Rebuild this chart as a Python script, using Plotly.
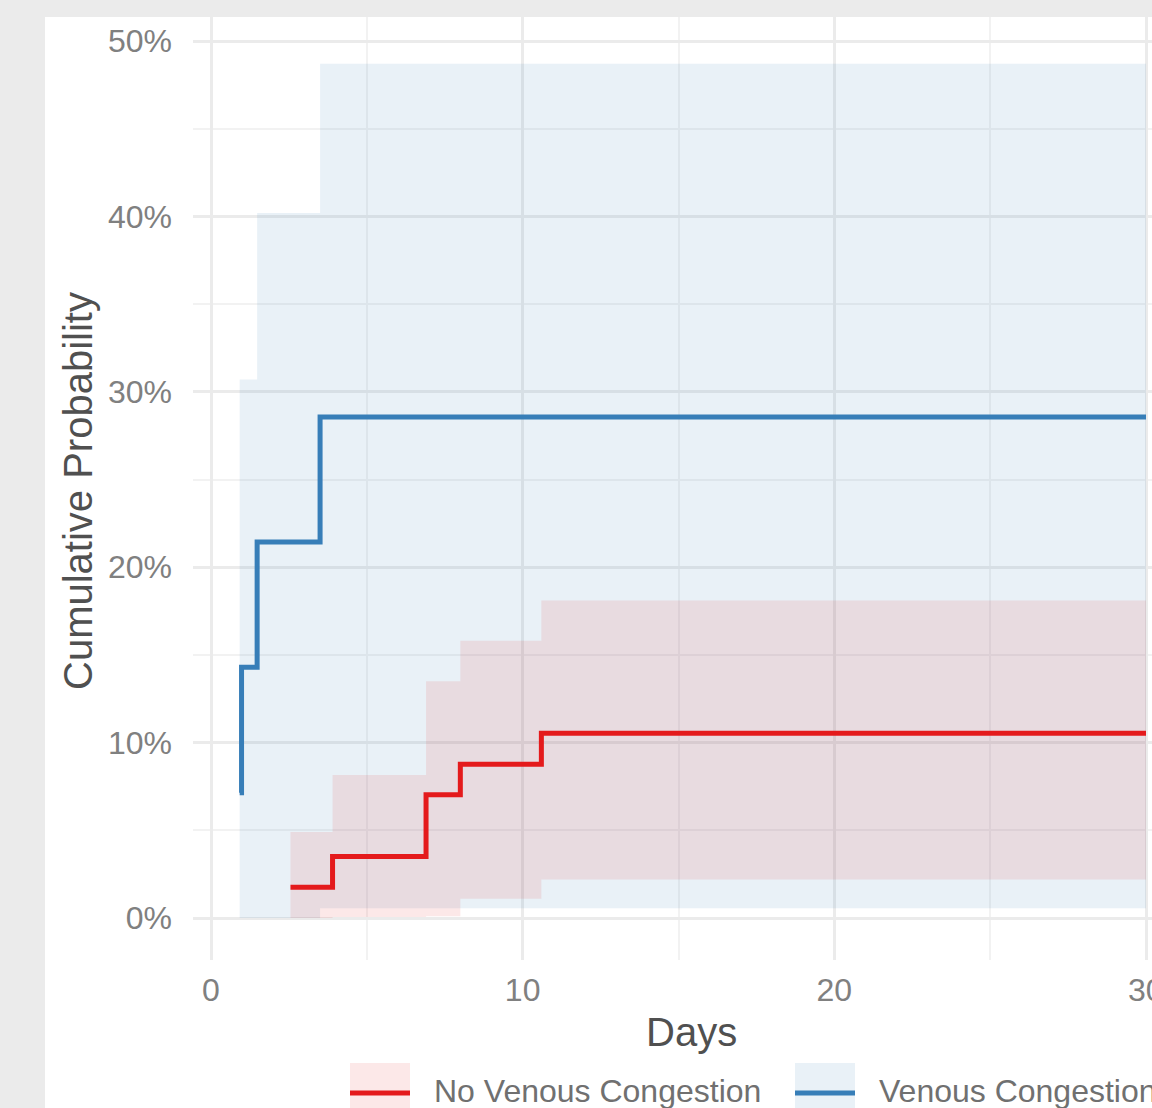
import plotly.graph_objects as go

# Cumulative incidence (percent) with confidence bands, by group
days_nvc = [2.55, 3.9, 6.9, 8.0, 10.6, 30]
cif_nvc = [1.75, 3.51, 7.02, 8.77, 10.53, 10.53]
lower_nvc = [0.0, 0.05, 0.1, 1.1, 2.2, 2.2]
upper_nvc = [4.9, 8.15, 13.5, 15.8, 18.1, 18.1]

days_vc = [0.92, 0.98, 1.48, 3.5, 30]
cif_vc = [7.14, 14.29, 21.43, 28.57, 28.57]
lower_vc = [0.0, 0.0, 0.0, 0.55, 0.55]
upper_vc = [30.7, 30.7, 40.2, 48.7, 48.7]

group_names = ["No Venous Congestion", "Venous Congestion"]
line_colors = ["#E41A1C", "#377EB8"]
band_colors = ["rgba(228,26,28,0.10)", "rgba(55,126,184,0.11)"]

y_ticks = [0, 10, 20, 30, 40, 50]
y_tick_text = [f"{v}%" for v in y_ticks]
x_ticks = [0, 10, 20, 30]

W, H = 1152, 1108
L, R, T, B = 193, 0, 17, 148
pw, ph = W - L - R, H - T - B


def px(x):
    return (x - L) / pw


def py(y):
    return (H - B - y) / ph


fig = go.Figure()

groups = [
    (days_nvc, cif_nvc, lower_nvc, upper_nvc),
    (days_vc, cif_vc, lower_vc, upper_vc),
]

# confidence bands (blue drawn first, red on top)
for i in [1, 0]:
    d, c, lo, up = groups[i]
    fig.add_trace(go.Scatter(x=d, y=lo, mode="lines", line=dict(width=0, shape="hv"),
                             hoverinfo="skip", showlegend=False))
    fig.add_trace(go.Scatter(x=d, y=up, mode="lines", line=dict(width=0, shape="hv"),
                             fill="tonexty", fillcolor=band_colors[i],
                             hoverinfo="skip", showlegend=False))

# step curves
for i in [1, 0]:
    d, c, lo, up = groups[i]
    fig.add_trace(go.Scatter(x=d, y=c, mode="lines", name=group_names[i],
                             line=dict(color=line_colors[i], width=5, shape="hv"),
                             showlegend=False))

shapes = [
    # outer grey frame strips
    dict(type="rect", xref="paper", yref="paper", x0=px(0), x1=px(45), y0=py(H), y1=py(0),
         fillcolor="#ebebeb", line=dict(width=0), layer="below"),
    dict(type="rect", xref="paper", yref="paper", x0=px(0), x1=px(W + 5), y0=py(T), y1=py(0),
         fillcolor="#ebebeb", line=dict(width=0), layer="below"),
]

tick_font = dict(size=32, color="#808080")

annotations = [
    dict(text="Days", xref="paper", yref="paper", x=px(691), y=py(1032),
         xanchor="center", yanchor="middle", showarrow=False,
         font=dict(size=40, color="#505050")),
    dict(text="Cumulative Probability", xref="paper", yref="paper", x=px(78), y=py(491),
         xanchor="center", yanchor="middle", textangle=-90, showarrow=False,
         font=dict(size=40, color="#505050")),
    # last x tick label runs past the right edge of the page
    dict(text=str(x_ticks[-1]), xref="x", yref="paper", x=x_ticks[-1], y=py(990),
         xanchor="center", yanchor="middle", showarrow=False, font=tick_font),
]

# legend keys drawn beneath the panel
key_left = [350, 795]
text_left = [432, 877]
key_top, key_size = 1063, 60
for i in range(2):
    x0 = key_left[i]
    shapes.append(dict(type="rect", xref="paper", yref="paper",
                       x0=px(x0), x1=px(x0 + key_size), y0=py(key_top + key_size), y1=py(key_top),
                       fillcolor=band_colors[i], line=dict(width=0)))
    shapes.append(dict(type="line", xref="paper", yref="paper",
                       x0=px(x0), x1=px(x0 + key_size), y0=py(key_top + key_size / 2),
                       y1=py(key_top + key_size / 2),
                       line=dict(color=line_colors[i], width=5)))
    annotations.append(dict(text=group_names[i], xref="paper", yref="paper",
                            x=px(text_left[i]), y=py(key_top + key_size / 2 - 2),
                            xanchor="left", yanchor="middle", showarrow=False,
                            font=dict(size=32, color="#707070")))

x_scale = (1146 - 211) / 30
x_min = (L - 211) / x_scale
x_max = 30 + (W - 1146) / x_scale
y_scale = (918 - 41) / 50
y_min = (918 - (H - B)) / y_scale
y_max = (918 - T) / y_scale

fig.update_layout(
    width=W, height=H,
    margin=dict(l=L, r=R, t=T, b=B, pad=0),
    paper_bgcolor="white", plot_bgcolor="white",
    font=dict(family="Liberation Sans, Arial, sans-serif"),
    showlegend=False,
    shapes=shapes,
    annotations=annotations,
    xaxis=dict(range=[x_min, x_max], tickvals=x_ticks, ticktext=[str(v) for v in x_ticks],
               showgrid=True, gridcolor="#ebebeb", gridwidth=3, zeroline=False,
               showline=False, ticks="", ticklabelstandoff=8,
               tickfont=tick_font,
               minor=dict(dtick=5, tick0=0, showgrid=True, gridcolor="#f2f2f2", gridwidth=1.5)),
    yaxis=dict(range=[y_min, y_max], tickvals=y_ticks, ticktext=y_tick_text,
               showgrid=True, gridcolor="#ebebeb", gridwidth=3, zeroline=False,
               showline=False, ticks="", ticklabelstandoff=20,
               tickfont=tick_font,
               minor=dict(dtick=5, tick0=0, showgrid=True, gridcolor="#f2f2f2", gridwidth=1.5)),
)

fig.write_html("out.html")
